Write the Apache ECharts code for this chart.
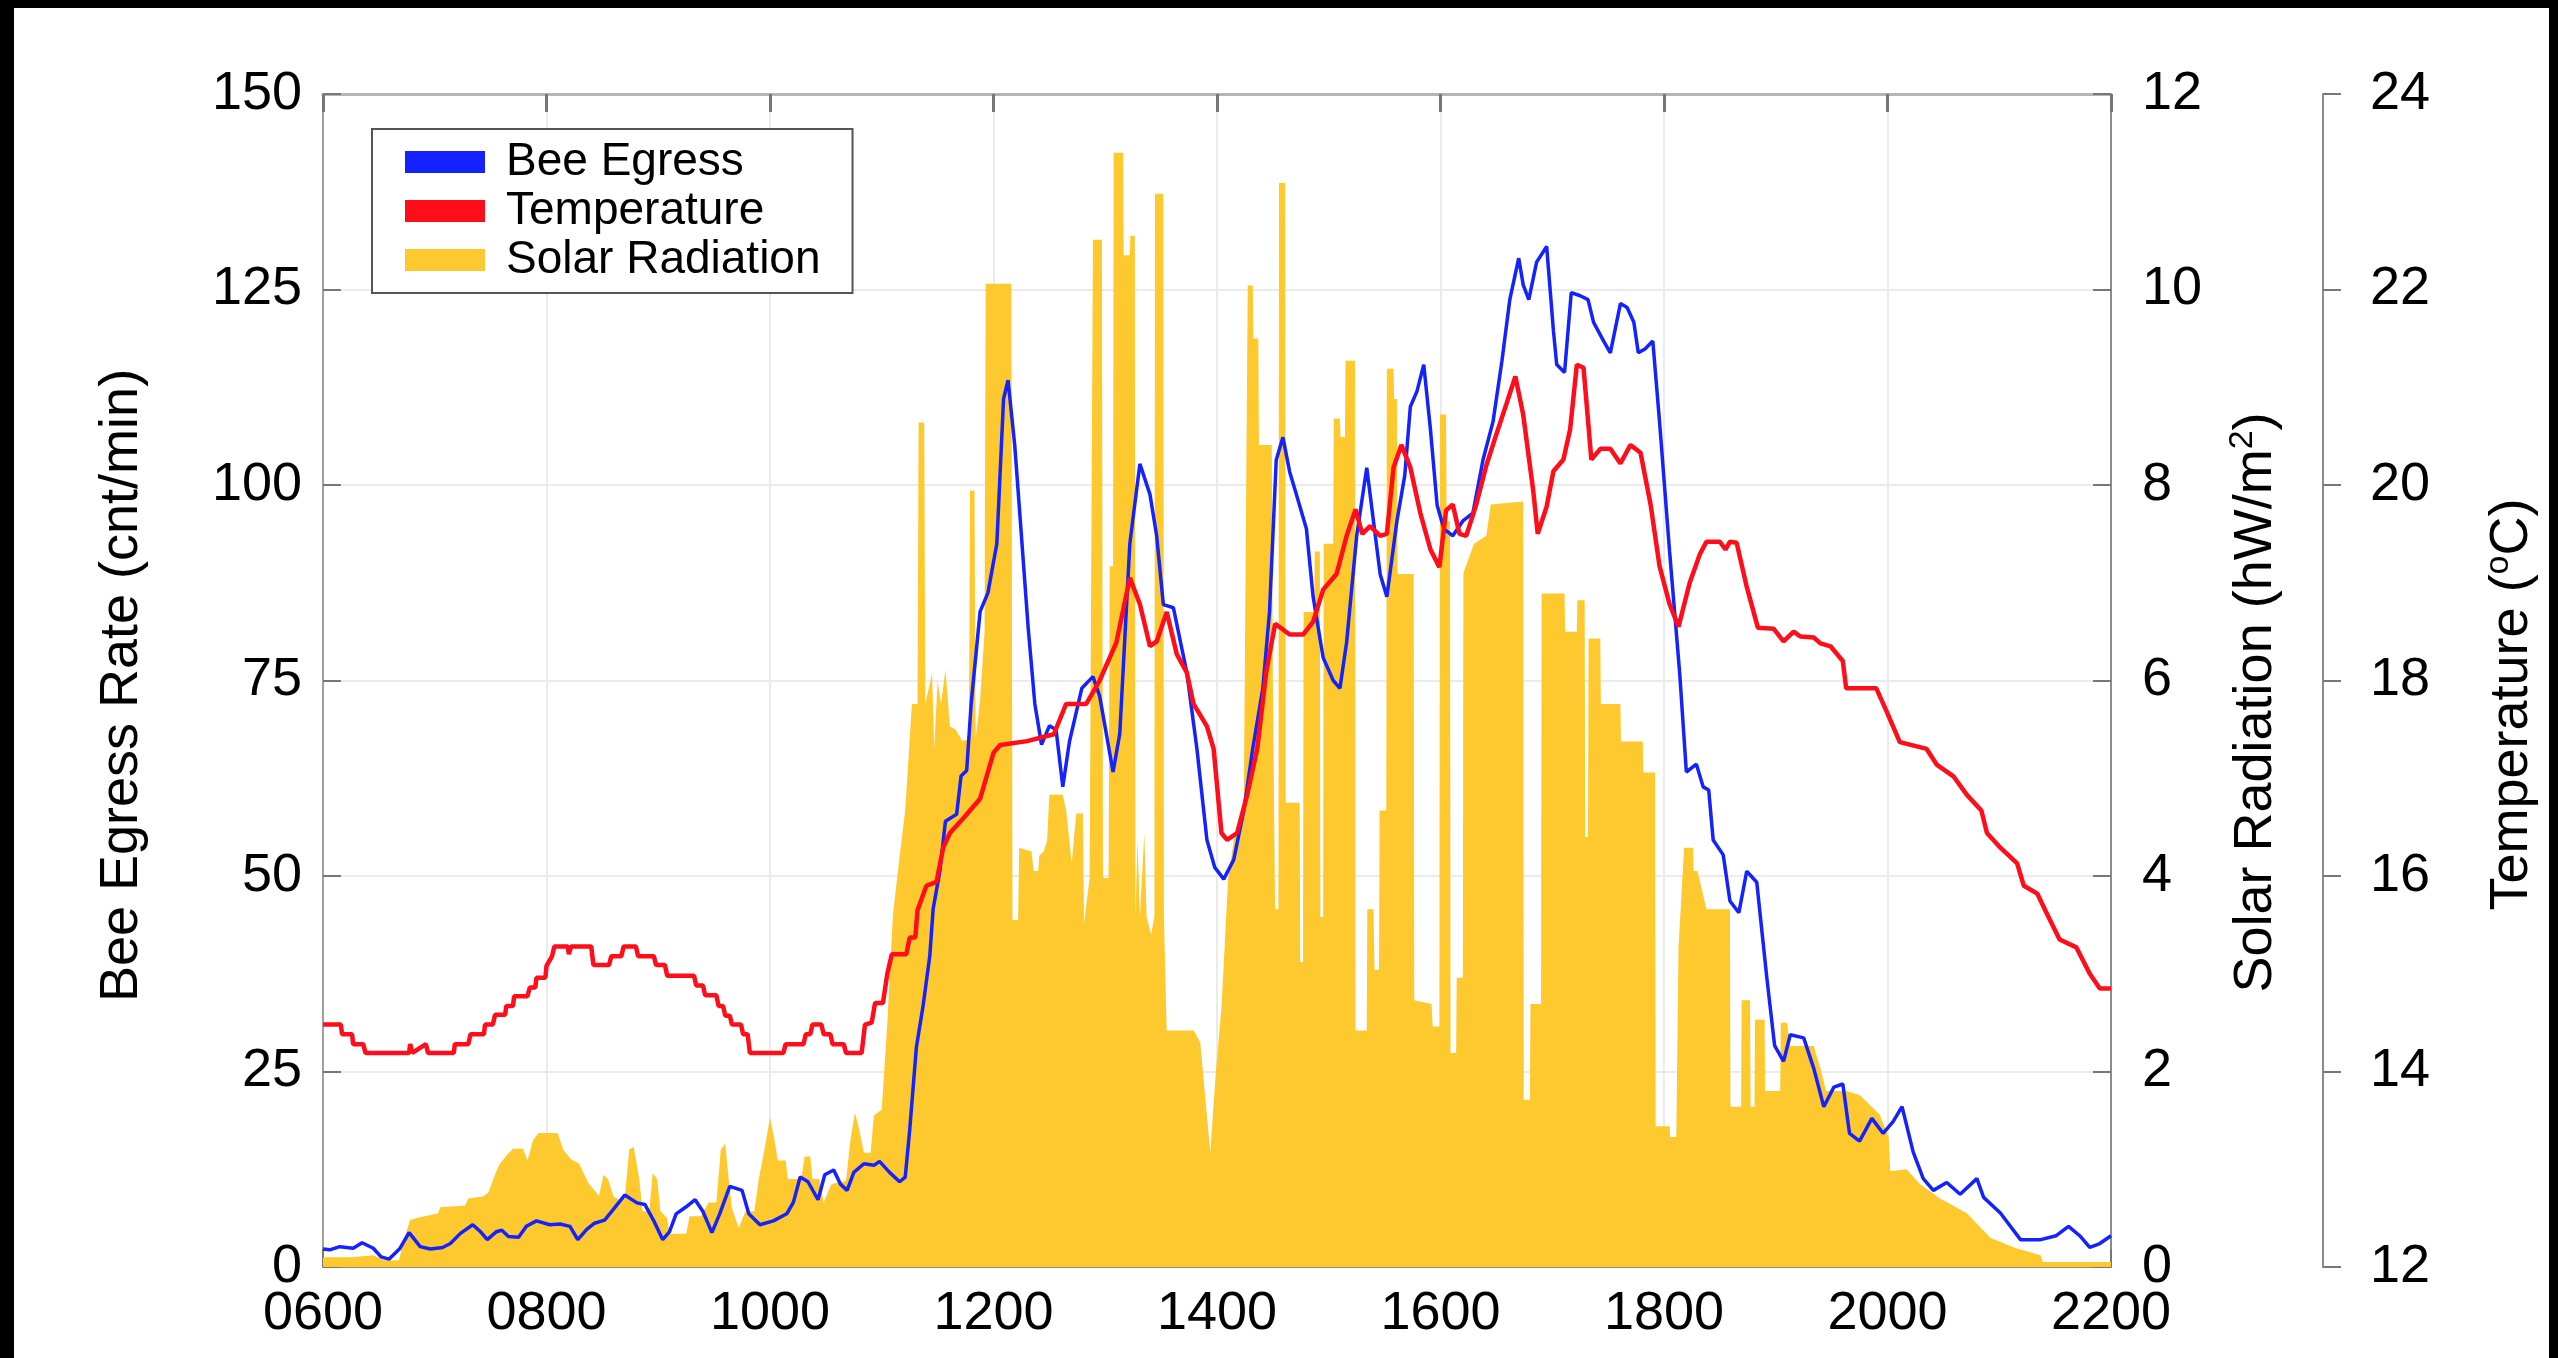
<!DOCTYPE html>
<html><head><meta charset="utf-8">
<script src="https://cdn.jsdelivr.net/npm/echarts@6/dist/echarts.min.js"></script>
<style>html,body{margin:0;padding:0;background:#fff;}#chart{width:2558px;height:1358px;}</style>
</head><body><div id="chart"></div>
<script>
// time in hours (6 = 0600)
const xTickLabels = ['0600','0800','1000','1200','1400','1600','1800','2000','2200'];

const beeEgress = [
[6.00,2.3],[6.06,2.2],[6.15,2.6],[6.27,2.4],[6.35,3.1],[6.45,2.4],[6.52,1.3],[6.59,1.0],[6.69,2.4],[6.77,4.4],[6.87,2.6],[6.96,2.3],[7.07,2.5],[7.14,3.0],[7.23,4.3],[7.34,5.4],[7.41,4.5],[7.47,3.5],[7.55,4.5],[7.60,4.7],[7.66,3.9],[7.75,3.8],[7.82,5.2],[7.91,5.9],[8.03,5.4],[8.12,5.5],[8.21,5.2],[8.28,3.5],[8.36,4.8],[8.43,5.6],[8.52,6.0],[8.60,7.4],[8.70,9.2],[8.81,8.2],[8.88,8.0],[8.96,5.9],[9.04,3.5],[9.10,4.5],[9.16,6.8],[9.25,7.7],[9.33,8.6],[9.40,7.1],[9.48,4.4],[9.55,6.8],[9.64,10.3],[9.75,9.8],[9.81,6.8],[9.91,5.4],[10.03,5.9],[10.15,6.8],[10.21,8.3],[10.27,11.5],[10.34,10.9],[10.43,8.6],[10.49,11.8],[10.57,12.4],[10.63,10.6],[10.69,9.8],[10.75,12.1],[10.84,13.2],[10.93,13.0],[10.98,13.5],[11.07,12.1],[11.16,10.9],[11.21,11.5],[11.25,17.5],[11.31,28.1],[11.37,33.4],[11.43,39.8],[11.46,45.8],[11.52,50.6],[11.57,57.0],[11.67,57.9],[11.71,62.8],[11.76,63.5],[11.80,72.0],[11.88,83.8],[11.95,86.2],[12.03,92.5],[12.09,111.0],[12.13,113.4],[12.19,105.1],[12.25,93.5],[12.31,81.8],[12.37,72.0],[12.43,66.8],[12.50,69.2],[12.56,68.7],[12.62,61.4],[12.68,67.2],[12.79,74.0],[12.89,75.5],[12.95,73.0],[13.07,63.3],[13.13,68.2],[13.22,92.5],[13.31,102.7],[13.40,98.8],[13.46,93.5],[13.52,84.7],[13.61,84.3],[13.73,76.0],[13.82,66.3],[13.91,54.6],[13.98,51.1],[14.06,49.6],[14.15,52.1],[14.24,58.4],[14.32,66.3],[14.41,74.0],[14.47,83.8],[14.53,103.2],[14.59,106.1],[14.65,101.7],[14.70,99.3],[14.80,94.4],[14.86,85.7],[14.95,77.9],[15.04,75.0],[15.10,74.0],[15.16,79.9],[15.25,93.5],[15.34,102.2],[15.40,95.4],[15.46,88.6],[15.52,85.7],[15.61,95.4],[15.68,101.2],[15.73,110.0],[15.79,112.0],[15.85,115.4],[15.91,107.1],[15.97,97.4],[16.03,94.4],[16.11,93.5],[16.20,95.4],[16.29,96.4],[16.38,103.2],[16.47,108.1],[16.55,115.9],[16.62,123.7],[16.70,129.0],[16.74,125.6],[16.79,123.7],[16.86,128.5],[16.95,130.5],[17.01,119.8],[17.04,115.4],[17.11,114.4],[17.17,124.6],[17.25,124.2],[17.32,123.7],[17.37,120.8],[17.46,118.4],[17.52,116.9],[17.61,123.2],[17.67,122.7],[17.73,120.8],[17.77,116.9],[17.83,117.4],[17.90,118.4],[17.96,108.1],[18.05,91.5],[18.14,76.0],[18.20,63.3],[18.29,64.3],[18.35,61.4],[18.40,61.0],[18.44,54.6],[18.53,52.7],[18.59,46.8],[18.67,45.3],[18.74,50.6],[18.83,49.2],[18.92,37.0],[18.99,28.3],[19.07,26.3],[19.13,29.7],[19.25,29.3],[19.34,25.4],[19.43,20.5],[19.52,23.0],[19.60,23.4],[19.66,17.1],[19.75,16.1],[19.86,19.0],[19.96,17.1],[20.05,18.6],[20.13,20.5],[20.23,14.7],[20.32,11.3],[20.41,9.8],[20.53,10.8],[20.65,9.3],[20.80,11.3],[20.86,8.9],[21.01,6.9],[21.19,3.5],[21.37,3.5],[21.51,4.0],[21.62,5.2],[21.72,4.0],[21.81,2.5],[21.90,3.0],[22.00,4.0]
];

const temperature = [
[6.00,14.48],[6.16,14.48],[6.17,14.38],[6.26,14.38],[6.27,14.28],[6.36,14.28],[6.38,14.19],[6.77,14.19],[6.78,14.28],[6.80,14.19],[6.92,14.28],[6.94,14.19],[7.17,14.19],[7.18,14.28],[7.30,14.28],[7.32,14.38],[7.44,14.38],[7.45,14.48],[7.52,14.48],[7.54,14.58],[7.63,14.58],[7.64,14.67],[7.70,14.67],[7.71,14.77],[7.83,14.77],[7.85,14.86],[7.90,14.86],[7.91,14.96],[7.99,14.96],[8.00,15.08],[8.05,15.18],[8.07,15.28],[8.19,15.28],[8.20,15.20],[8.22,15.28],[8.40,15.28],[8.42,15.09],[8.56,15.09],[8.58,15.18],[8.67,15.18],[8.69,15.28],[8.80,15.28],[8.82,15.18],[8.96,15.18],[8.98,15.09],[9.06,15.09],[9.08,14.98],[9.32,14.98],[9.34,14.88],[9.40,14.88],[9.42,14.78],[9.52,14.78],[9.54,14.67],[9.58,14.67],[9.60,14.57],[9.64,14.57],[9.66,14.48],[9.74,14.48],[9.76,14.38],[9.80,14.38],[9.82,14.19],[10.12,14.19],[10.14,14.28],[10.30,14.28],[10.32,14.38],[10.36,14.38],[10.38,14.48],[10.46,14.48],[10.48,14.38],[10.54,14.38],[10.56,14.28],[10.66,14.28],[10.68,14.19],[10.82,14.19],[10.85,14.48],[10.91,14.50],[10.94,14.70],[11.01,14.70],[11.05,15.00],[11.09,15.20],[11.22,15.20],[11.25,15.37],[11.30,15.37],[11.32,15.65],[11.38,15.84],[11.40,15.90],[11.49,15.94],[11.55,16.29],[11.61,16.44],[11.73,16.59],[11.88,16.79],[12.00,17.26],[12.06,17.34],[12.30,17.38],[12.54,17.45],[12.65,17.76],[12.83,17.76],[12.95,18.00],[13.10,18.39],[13.22,19.05],[13.31,18.78],[13.40,18.35],[13.46,18.40],[13.55,18.70],[13.64,18.27],[13.73,18.08],[13.79,17.76],[13.91,17.53],[13.97,17.30],[14.04,16.44],[14.09,16.37],[14.18,16.44],[14.27,16.83],[14.36,17.30],[14.44,18.08],[14.52,18.58],[14.65,18.47],[14.77,18.47],[14.86,18.60],[14.95,18.93],[15.07,19.09],[15.16,19.48],[15.24,19.75],[15.30,19.50],[15.37,19.58],[15.46,19.48],[15.52,19.50],[15.58,20.18],[15.65,20.41],[15.73,20.18],[15.82,19.71],[15.91,19.34],[15.99,19.16],[16.05,19.74],[16.11,19.80],[16.17,19.50],[16.23,19.48],[16.32,19.80],[16.41,20.20],[16.50,20.52],[16.59,20.83],[16.67,21.11],[16.74,20.72],[16.83,19.94],[16.87,19.50],[16.95,19.78],[17.01,20.14],[17.10,20.26],[17.16,20.57],[17.22,21.23],[17.28,21.20],[17.35,20.26],[17.43,20.37],[17.52,20.37],[17.61,20.22],[17.70,20.41],[17.79,20.33],[17.88,19.80],[17.96,19.17],[18.05,18.78],[18.13,18.55],[18.23,19.00],[18.32,19.29],[18.38,19.42],[18.50,19.42],[18.55,19.34],[18.59,19.42],[18.65,19.41],[18.74,18.96],[18.84,18.54],[18.98,18.53],[19.07,18.40],[19.16,18.50],[19.22,18.45],[19.34,18.44],[19.40,18.38],[19.49,18.35],[19.60,18.20],[19.63,17.92],[19.90,17.92],[19.99,17.69],[20.11,17.37],[20.35,17.30],[20.44,17.14],[20.59,17.02],[20.71,16.83],[20.84,16.67],[20.89,16.44],[21.01,16.29],[21.16,16.13],[21.22,15.90],[21.34,15.82],[21.42,15.63],[21.54,15.35],[21.69,15.27],[21.81,15.00],[21.90,14.85],[22.00,14.85]
];

const solarRadiation = [
[6.00,0.10],[6.25,0.10],[6.45,0.12],[6.55,0.07],[6.68,0.07],[6.73,0.30],[6.78,0.48],[6.83,0.50],[7.03,0.55],[7.05,0.61],[7.27,0.63],[7.30,0.70],[7.43,0.72],[7.48,0.76],[7.54,0.95],[7.58,1.05],[7.65,1.15],[7.70,1.21],[7.79,1.21],[7.83,1.09],[7.88,1.30],[7.93,1.37],[8.10,1.37],[8.15,1.20],[8.22,1.10],[8.29,1.06],[8.38,0.85],[8.47,0.73],[8.51,0.94],[8.55,0.90],[8.60,0.72],[8.66,0.68],[8.70,0.70],[8.74,1.20],[8.78,1.23],[8.83,0.90],[8.86,0.57],[8.92,0.57],[8.95,0.96],[8.99,0.90],[9.02,0.57],[9.08,0.50],[9.10,0.34],[9.25,0.34],[9.28,0.52],[9.38,0.52],[9.45,0.66],[9.52,0.66],[9.56,1.20],[9.60,1.26],[9.63,0.90],[9.66,0.60],[9.72,0.40],[9.78,0.57],[9.86,0.57],[9.90,0.90],[9.95,1.20],[10.00,1.53],[10.04,1.30],[10.07,1.09],[10.14,1.09],[10.16,0.90],[10.28,0.90],[10.31,1.13],[10.36,1.13],[10.38,0.90],[10.44,0.90],[10.48,0.66],[10.55,0.85],[10.68,0.88],[10.72,1.30],[10.76,1.58],[10.80,1.40],[10.84,1.17],[10.90,1.17],[10.93,1.55],[11.00,1.61],[11.05,2.50],[11.10,3.60],[11.16,4.20],[11.21,4.67],[11.27,5.76],[11.32,5.76],[11.33,8.64],[11.38,8.64],[11.39,5.76],[11.45,6.07],[11.47,5.30],[11.50,6.00],[11.53,5.76],[11.57,6.11],[11.61,5.53],[11.66,5.50],[11.72,5.38],[11.78,5.40],[11.79,7.94],[11.83,7.94],[11.84,5.40],[11.88,5.80],[11.92,6.50],[11.93,10.06],[12.16,10.06],[12.17,3.55],[12.22,3.55],[12.23,4.29],[12.34,4.25],[12.36,4.05],[12.40,4.05],[12.41,4.21],[12.45,4.25],[12.48,4.36],[12.50,4.83],[12.62,4.83],[12.65,4.67],[12.70,4.13],[12.74,4.64],[12.80,4.64],[12.81,3.51],[12.86,3.98],[12.89,10.51],[12.97,10.51],[12.98,3.98],[13.03,3.98],[13.04,7.17],[13.07,7.17],[13.075,11.40],[13.16,11.40],[13.165,10.35],[13.22,10.35],[13.225,10.55],[13.265,10.55],[13.27,3.58],[13.29,4.36],[13.31,3.58],[13.35,4.44],[13.37,3.58],[13.41,3.40],[13.44,3.58],[13.445,10.98],[13.52,10.98],[13.525,3.58],[13.55,2.42],[13.79,2.42],[13.85,2.30],[13.94,1.17],[13.99,2.00],[14.04,2.65],[14.10,3.98],[14.15,4.36],[14.24,4.75],[14.275,10.04],[14.32,10.04],[14.325,9.50],[14.37,9.50],[14.375,8.41],[14.49,8.41],[14.50,6.00],[14.52,3.66],[14.55,3.66],[14.555,11.09],[14.61,11.09],[14.615,4.75],[14.74,4.75],[14.745,3.12],[14.77,3.12],[14.775,6.70],[14.87,6.70],[14.875,7.32],[14.92,7.32],[14.925,3.58],[14.95,3.58],[14.955,7.40],[15.04,7.40],[15.045,8.68],[15.10,8.68],[15.105,8.49],[15.145,8.49],[15.15,9.27],[15.235,9.27],[15.24,2.42],[15.34,2.42],[15.345,3.66],[15.40,3.66],[15.41,3.04],[15.45,3.04],[15.455,4.67],[15.515,4.67],[15.52,9.19],[15.58,9.19],[15.585,8.88],[15.61,8.88],[15.615,7.09],[15.76,7.09],[15.765,2.73],[15.92,2.69],[15.93,2.46],[15.99,2.46],[15.995,8.72],[16.05,8.72],[16.055,7.63],[16.085,7.63],[16.09,2.19],[16.14,2.19],[16.145,2.96],[16.20,2.96],[16.205,7.10],[16.30,7.40],[16.41,7.48],[16.45,7.80],[16.74,7.83],[16.745,1.71],[16.80,1.71],[16.805,2.69],[16.90,2.69],[16.905,6.89],[17.11,6.89],[17.115,6.50],[17.22,6.50],[17.225,6.82],[17.29,6.82],[17.295,4.40],[17.32,4.40],[17.325,6.43],[17.43,6.43],[17.435,5.76],[17.61,5.76],[17.615,5.375],[17.81,5.375],[17.815,5.06],[17.92,5.06],[17.925,1.44],[18.05,1.44],[18.055,1.33],[18.11,1.33],[18.13,3.27],[18.18,4.29],[18.26,4.29],[18.265,4.05],[18.30,4.05],[18.38,3.66],[18.59,3.66],[18.595,1.64],[18.69,1.64],[18.695,2.73],[18.77,2.73],[18.775,1.64],[18.81,1.64],[18.815,2.53],[18.90,2.53],[18.905,1.80],[19.04,1.80],[19.045,2.50],[19.10,2.50],[19.13,2.26],[19.34,2.26],[19.40,2.03],[19.45,1.80],[19.63,1.80],[19.75,1.76],[19.93,1.56],[20.01,1.33],[20.025,0.98],[20.17,1.00],[20.29,0.85],[20.47,0.70],[20.71,0.55],[20.92,0.30],[21.13,0.20],[21.37,0.12],[21.39,0.05],[22.00,0.05]
];

const FONT = '"Liberation Sans", Arial, Helvetica, sans-serif';
const BLUE = '#1322ff', RED = '#ff0d1a', GOLD = '#fdc92f';
const AXIS = '#8c8c8c', TICK = '#777777', GRIDC = '#ebebeb';

const chart = echarts.init(document.getElementById('chart'), null, {renderer: 'canvas', width: 2558, height: 1358});

const supRich = { sup: { fontSize: 34, fontFamily: FONT, color: '#000', verticalAlign: 'top', lineHeight: 34 } };

const option = {
  animation: false,
  backgroundColor: '#ffffff',
  textStyle: { fontFamily: FONT },
  grid: { left: 323, right: 447, top: 94, bottom: 91, containLabel: false, outerBoundsMode: 'none' },
  legend: {
    orient: 'vertical', left: 372, top: 129,
    data: ['Bee Egress', 'Temperature', 'Solar Radiation'],
    icon: 'rect', itemWidth: 80, itemHeight: 22, itemGap: 3,
    padding: [10, 32, 10, 33],
    borderColor: '#555', borderWidth: 2, backgroundColor: '#fff',
    textStyle: { fontSize: 46, color: '#000', fontFamily: FONT, lineHeight: 46, padding: [0, 0, 0, 16] }
  },
  graphic: { elements: [
    { type: 'rect', shape: { x: 0, y: 0, width: 14, height: 1358 }, style: { fill: '#000' }, z: 100 },
    { type: 'rect', shape: { x: 0, y: 0, width: 2558, height: 8 }, style: { fill: '#000' }, z: 100 },
    { type: 'rect', shape: { x: 2549, y: 0, width: 9, height: 1358 }, style: { fill: '#000' }, z: 100 }
  ]},
  xAxis: [
    { type: 'value', min: 6, max: 22, interval: 2, position: 'bottom',
      axisLine: { show: true, lineStyle: { color: AXIS, width: 2 } },
      axisTick: { show: true, inside: true, length: 18, lineStyle: { color: TICK, width: 2 } },
      axisLabel: { fontSize: 54, color: '#000', fontFamily: FONT, margin: 20,
        formatter: v => xTickLabels[Math.round((v - 6) / 2)] },
      splitLine: { show: true, lineStyle: { color: GRIDC, width: 2 } } },
    { type: 'value', min: 6, max: 22, interval: 2, position: 'top',
      axisLine: { show: true, onZero: false, lineStyle: { color: '#b5b5b5', width: 3 } },
      axisTick: { show: true, inside: true, length: 18, lineStyle: { color: TICK, width: 3 } },
      axisLabel: { show: false }, splitLine: { show: false } }
  ],
  yAxis: [
    { type: 'value', position: 'left', min: 0, max: 150, interval: 25,
      axisLine: { show: true, onZero: false, lineStyle: { color: '#a0a0a0', width: 2 } },
      axisTick: { show: true, inside: true, length: 18, lineStyle: { color: TICK, width: 2 } },
      axisLabel: { fontSize: 54, color: '#000', fontFamily: FONT, margin: 21 },
      splitLine: { show: true, lineStyle: { color: GRIDC, width: 2 } },
      name: 'Bee Egress Rate (cnt/min)', nameLocation: 'middle', nameRotate: 90, nameGap: 171,
      nameTextStyle: { fontSize: 54, color: '#000', fontFamily: FONT, lineHeight: 60, padding: [0, 10, 0, 0] } },
    { type: 'value', position: 'right', offset: 0, min: 0, max: 12, interval: 2,
      axisLine: { show: true, onZero: false, lineStyle: { color: AXIS, width: 2 } },
      axisTick: { show: true, inside: true, length: 18, lineStyle: { color: TICK, width: 2 } },
      axisLabel: { fontSize: 54, color: '#000', fontFamily: FONT, margin: 31 },
      splitLine: { show: false },
      name: 'Solar Radiation (hW/m{sup|2})', nameLocation: 'middle', nameRotate: 90, nameGap: 115,
      nameTextStyle: { fontSize: 54, color: '#000', fontFamily: FONT, lineHeight: 60, padding: [0, 44, 0, 0], rich: supRich } },
    { type: 'value', position: 'right', offset: 212, min: 12, max: 24, interval: 2,
      axisLine: { show: true, onZero: false, lineStyle: { color: AXIS, width: 2 } },
      axisTick: { show: true, inside: false, length: 18, lineStyle: { color: TICK, width: 2 } },
      axisLabel: { fontSize: 54, color: '#000', fontFamily: FONT, margin: 47 },
      splitLine: { show: false },
      name: 'Temperature ({sup|o}C)', nameLocation: 'middle', nameRotate: 90, nameGap: 159,
      nameTextStyle: { fontSize: 54, color: '#000', fontFamily: FONT, lineHeight: 60, padding: [0, 48, 0, 0], rich: supRich } }
  ],
  series: [
    { name: 'Solar Radiation', type: 'line', xAxisIndex: 0, yAxisIndex: 1, data: solarRadiation,
      showSymbol: false, symbol: 'none', sampling: 'none', z: 1,
      lineStyle: { width: 0, opacity: 0 }, itemStyle: { color: GOLD },
      areaStyle: { color: GOLD, opacity: 1 } },
    { name: 'Bee Egress', type: 'line', xAxisIndex: 0, yAxisIndex: 0, data: beeEgress,
      showSymbol: false, symbol: 'none', z: 3,
      lineStyle: { color: BLUE, width: 3.5 }, itemStyle: { color: BLUE } },
    { name: 'Temperature', type: 'line', xAxisIndex: 0, yAxisIndex: 2, data: temperature,
      showSymbol: false, symbol: 'none', z: 4,
      lineStyle: { color: RED, width: 4.5 }, itemStyle: { color: RED } }
  ]
};
chart.setOption(option);
</script></body></html>
